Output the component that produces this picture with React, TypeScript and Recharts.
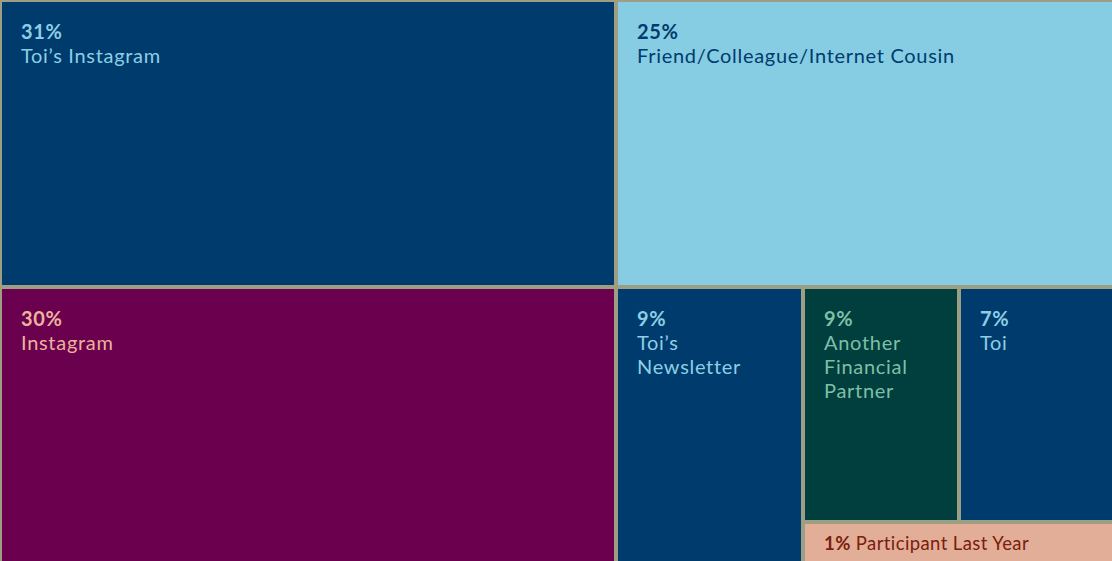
import React from 'react';
import { Treemap } from 'recharts';

// labels as printed on the tiles
const labels = [
  'Toi’s Instagram',
  'Friend/Colleague/Internet Cousin',
  'Instagram',
  'Toi’s Newsletter',
  'Another Financial Partner',
  'Toi',
  'Participant Last Year',
];
const percents = [31, 25, 30, 9, 9, 7, 1];
// tile areas (share of the whole canvas)
const tileSizes = [28.19, 22.79, 27.11, 8.23, 5.83, 5.83, 2.03];
const tileColors = ['#003b6e', '#86cde3', '#6b004f', '#003b6e', '#003f3e', '#003b6e', '#e2ae98'];
const textColors = ['#8ccfe5', '#003b6e', '#eab39b', '#8ccfe5', '#7fbfa6', '#8ccfe5', '#7a200d'];

const GAP = '#9c9f84';
const FONT = 'Lato, "Open Sans", sans-serif';

const leaf = (i: number) => ({
  name: labels[i],
  pct: percents[i],
  size: tileSizes[i],
  fill: tileColors[i],
  ink: textColors[i],
});

// zero-size spacer forces a split between its neighbours
const spacer = { name: '', size: 0 };

const treeData = [
  { name: 'top', children: [leaf(0), leaf(1)] },
  {
    name: 'bottom',
    children: [
      { name: 'left', children: [leaf(2), leaf(3)] },
      {
        name: 'right',
        children: [{ name: 'pair', children: [leaf(4), spacer, leaf(5)] }, leaf(6)],
      },
    ],
  },
];

const renderTile = (props: any) => {
  const { x, y, width, height, pct, name, fill, ink } = props;
  if (pct === undefined || !width || !height) return <g />;

  const tx = x + 21;
  let text;
  if (height < 60) {
    // short strip: one line
    text = (
      <text x={tx} y={y + height / 2 + 7} fill={ink} fontSize={18.5} letterSpacing={0.4} fontFamily={FONT}>
        <tspan fontWeight={700}>{pct}%</tspan>
        <tspan> {name}</tspan>
      </text>
    );
  } else {
    const lines = width < 250 ? name.split(' ') : [name];
    text = (
      <text x={tx} y={y + 39} fill={ink} fontSize={20} letterSpacing={0.7} fontFamily={FONT}>
        <tspan x={tx} fontWeight={700}>{pct}%</tspan>
        {lines.map((l: string, i: number) => (
          <tspan key={i} x={tx} dy={24}>{l}</tspan>
        ))}
      </text>
    );
  }

  return (
    <g>
      <rect x={x + 2} y={y + 2} width={width - 4} height={height - 4} fill={fill} stroke="none" />
      {text}
    </g>
  );
};

const App = () => {
  return (
    <div
      style={{
        position: 'fixed',
        left: 0,
        top: 0,
        width: 1112,
        height: 561,
        overflow: 'hidden',
        background: GAP,
      }}
    >
      <Treemap
        width={1114}
        height={563}
        data={treeData}
        dataKey="size"
        aspectRatio={3.5}
        isAnimationActive={false}
        content={renderTile}
      />
    </div>
  );
};

export default App;
